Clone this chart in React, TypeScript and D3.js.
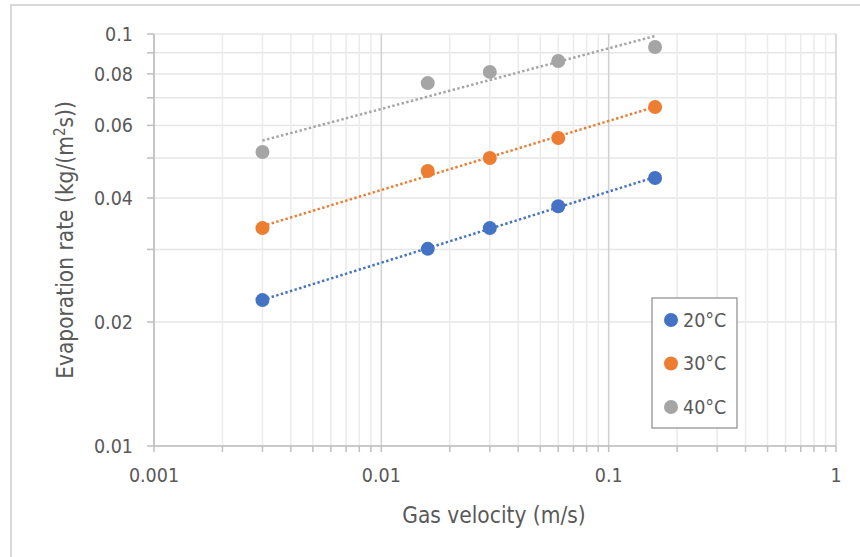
import React from "react";
import * as d3 from "d3";

const velocities = [0.003, 0.016, 0.03, 0.06, 0.16];
const rate20 = [0.0226, 0.0301, 0.0338, 0.0382, 0.0447];
const rate30 = [0.0338, 0.0465, 0.05, 0.0559, 0.0665];
const rate40 = [0.0517, 0.076, 0.0809, 0.086, 0.093];
const seriesNames = ["20°C", "30°C", "40°C"];
const seriesColors = ["#4472C4", "#ED7D31", "#A5A5A5"];
const yTickLabels = [0.01, 0.02, 0.04, 0.06, 0.08, 0.1];
const xTickLabels = [0.001, 0.01, 0.1, 1];

const W = 860;
const H = 557;
const FONT = "'DejaVu Sans Condensed', 'Liberation Sans', sans-serif";

function powerFit(xs: number[], ys: number[]) {
  const lx = xs.map(Math.log10);
  const ly = ys.map(Math.log10);
  const mx = d3.mean(lx)!;
  const my = d3.mean(ly)!;
  let sxy = 0, sxx = 0;
  lx.forEach((v, i) => {
    sxy += (v - mx) * (ly[i] - my);
    sxx += (v - mx) * (v - mx);
  });
  const b = sxy / sxx;
  const a = my - b * mx;
  return (x: number) => Math.pow(10, a + b * Math.log10(x));
}

export default function App() {
  const x = d3.scaleLog().domain([0.001, 1]).range([154, 836]);
  const y = d3.scaleLog().domain([0.01, 0.1]).range([446, 34]);

  const yGrid = d3.range(1, 11).map((k) => k / 100);
  const xGrid: number[] = [];
  [0.001, 0.01, 0.1].forEach((d) => {
    for (let k = 1; k < 10; k++) xGrid.push(d * k);
  });
  xGrid.push(1);
  const isMajorX = (v: number) => xTickLabels.some((t) => Math.abs(t - v) / t < 1e-9);

  const series = [rate20, rate30, rate40];
  const x0 = velocities[0];
  const x1 = velocities[velocities.length - 1];

  return (
    <svg width={W} height={H} style={{ position: "absolute", left: 0, top: 0, background: "#fff" }}>
      <rect x={0} y={0} width={W} height={H} fill="#fff" />
      <rect x={11} y={5} width={W + 20} height={H + 20} fill="none" stroke="#d9d9d9" strokeWidth={2} />

      {/* horizontal gridlines */}
      {yGrid.map((v) => (
        <line key={"yg" + v} x1={154} x2={836} y1={y(v)} y2={y(v)} stroke="#e6e6e6" strokeWidth={1.5} />
      ))}
      {/* vertical gridlines */}
      {xGrid.map((v, i) => (
        <line
          key={"xg" + i}
          x1={x(v)}
          x2={x(v)}
          y1={34}
          y2={446}
          stroke={isMajorX(v) ? "#d0d0d0" : "#ebebeb"}
          strokeWidth={1.5}
        />
      ))}

      {/* axes */}
      <line x1={154} x2={154} y1={34} y2={446} stroke="#bfbfbf" strokeWidth={1.5} />
      <line x1={154} x2={836} y1={446} y2={446} stroke="#bfbfbf" strokeWidth={1.5} />
      {yGrid.map((v) => (
        <line key={"yt" + v} x1={147} x2={154} y1={y(v)} y2={y(v)} stroke="#bfbfbf" strokeWidth={1.5} />
      ))}
      {xGrid.map((v, i) => (
        <line key={"xt" + i} x1={x(v)} x2={x(v)} y1={446} y2={452} stroke="#bfbfbf" strokeWidth={1.5} />
      ))}

      {/* tick labels */}
      {yTickLabels.map((v) => (
        <text
          key={"yl" + v}
          x={133}
          y={y(v)}
          dy="0.35em"
          textAnchor="end"
          fontFamily={FONT}
          fontSize={19.5}
          fill="#595959"
        >
          {String(v)}
        </text>
      ))}
      {xTickLabels.map((v) => (
        <text
          key={"xl" + v}
          x={x(v)}
          y={475}
          dy="0.35em"
          textAnchor="middle"
          fontFamily={FONT}
          fontSize={19.5}
          fill="#595959"
        >
          {String(v)}
        </text>
      ))}

      {/* axis titles */}
      <text x={494} y={515} dy="0.35em" textAnchor="middle" fontFamily={FONT} fontSize={22.5} fill="#595959">
        Gas velocity (m/s)
      </text>
      <text
        transform={`translate(65,${(34 + 446) / 2}) rotate(-90)`}
        dy="0.35em"
        textAnchor="middle"
        fontFamily={FONT}
        fontSize={22.5}
        fill="#595959"
      >
        Evaporation rate (kg/(m
        <tspan fontSize={15} dy="-8">2</tspan>
        <tspan dy="8">s))</tspan>
      </text>

      {/* trend lines */}
      {series.map((ys, si) => {
        const f = powerFit(velocities, ys);
        return (
          <line
            key={"tr" + si}
            x1={x(x0)}
            y1={y(f(x0))}
            x2={x(x1)}
            y2={y(f(x1))}
            stroke={seriesColors[si]}
            strokeWidth={2.5}
            strokeDasharray="2.4 2.4"
          />
        );
      })}

      {/* markers */}
      {series.map((ys, si) =>
        ys.map((v, i) => (
          <circle key={"m" + si + "-" + i} cx={x(velocities[i])} cy={y(v)} r={7} fill={seriesColors[si]} />
        ))
      )}

      {/* legend */}
      <rect x={652} y={298} width={85} height={130} fill="#fff" stroke="#8c8c8c" strokeWidth={1.2} />
      {seriesNames.map((n, i) => (
        <g key={"lg" + i}>
          <circle cx={671} cy={320 + i * 43.5} r={7} fill={seriesColors[i]} />
          <text x={683} y={320 + i * 43.5} dy="0.35em" fontFamily={FONT} fontSize={19.5} fill="#595959">
            {n}
          </text>
        </g>
      ))}
    </svg>
  );
}
